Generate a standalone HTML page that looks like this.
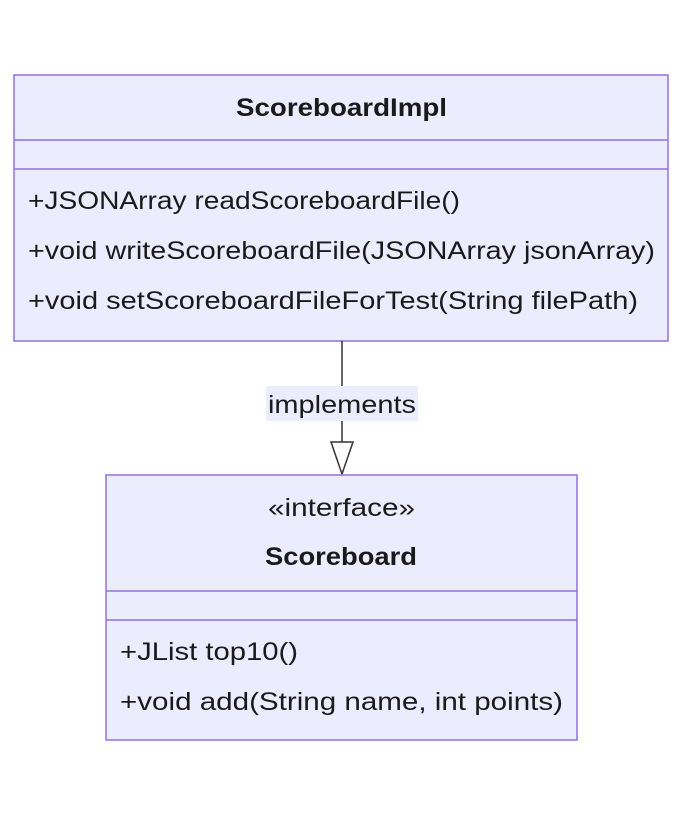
<!DOCTYPE html>
<html><head><meta charset="utf-8"><style>html,body{margin:0;padding:0;background:#fff;}svg{display:block}</style></head>
<body>
<svg width="683" height="816" xmlns="http://www.w3.org/2000/svg" font-family="'Liberation Sans', sans-serif" fill="#1a1a1a">
<rect x="14" y="75" width="654" height="266" fill="#ECECFF" stroke="#9370DB" stroke-width="1.5"/>
<line x1="14" y1="140" x2="668" y2="140" stroke="#9370DB" stroke-width="1.5"/>
<line x1="14" y1="169" x2="668" y2="169" stroke="#9370DB" stroke-width="1.5"/>
<text x="236" y="116" font-size="25" font-weight="bold" textLength="211" lengthAdjust="spacingAndGlyphs">ScoreboardImpl</text>
<text x="28" y="209" font-size="25" textLength="432" lengthAdjust="spacingAndGlyphs">+JSONArray readScoreboardFile()</text>
<text x="28" y="259" font-size="25" textLength="627" lengthAdjust="spacingAndGlyphs">+void writeScoreboardFile(JSONArray jsonArray)</text>
<text x="28" y="309" font-size="25" textLength="610" lengthAdjust="spacingAndGlyphs">+void setScoreboardFileForTest(String filePath)</text>

<line x1="342" y1="341" x2="342" y2="442" stroke="#333" stroke-width="1.5"/>
<rect x="266" y="386" width="152" height="35" fill="#ECECFF"/>
<text x="268" y="413" font-size="25" textLength="148" lengthAdjust="spacingAndGlyphs">implements</text>
<polygon points="331,442 353,442 342,474" fill="#fff" stroke="#333" stroke-width="1.5"/>

<rect x="106" y="475" width="471" height="265" fill="#ECECFF" stroke="#9370DB" stroke-width="1.5"/>
<line x1="106" y1="591" x2="577" y2="591" stroke="#9370DB" stroke-width="1.5"/>
<line x1="106" y1="620" x2="577" y2="620" stroke="#9370DB" stroke-width="1.5"/>
<text x="268" y="516" font-size="25" textLength="147" lengthAdjust="spacingAndGlyphs">«interface»</text>
<text x="265" y="565" font-size="25" font-weight="bold" textLength="152" lengthAdjust="spacingAndGlyphs">Scoreboard</text>
<text x="120" y="660" font-size="25" textLength="178" lengthAdjust="spacingAndGlyphs">+JList top10()</text>
<text x="120" y="710" font-size="25" textLength="443" lengthAdjust="spacingAndGlyphs">+void add(String name, int points)</text>
</svg>
</body></html>
